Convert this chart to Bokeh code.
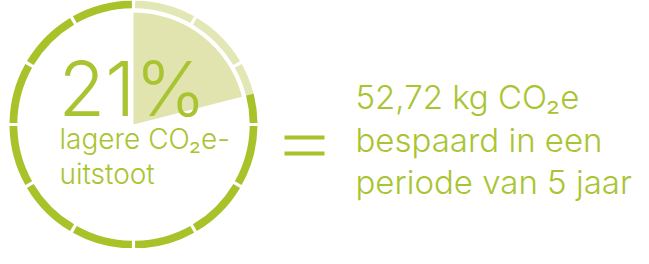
import math
from bokeh.plotting import figure
from bokeh.models import Range1d
from bokeh.embed import file_html
from bokeh.resources import INLINE
from bokeh.core.properties import value

# ---- data ----
pct = 21                      # share shown by the wedge (percent)
n_segments = 12               # ring segments
big_label = "21%"
left_line_1 = "lagere CO\u2082e-"
left_line_2 = "uitstoot"
right_line_1 = "52,72 kg CO\u2082e"
right_line_2 = "bespaard in een"
right_line_3 = "periode van 5 jaar"

# ---- style ----
DARK = "#a8c22a"
LIGHT_RING = "#e3e7b6"
WEDGE = "#e2e4af"
TEXT = "#a9c431"
FONT = "Inter Light"

W, H = 633, 248

p = figure(width=W, height=H, output_backend="svg", toolbar_location=None,
           x_range=Range1d(0, W), y_range=Range1d(0, H), min_border=0)
p.axis.visible = False
p.grid.visible = False
p.outline_line_color = None
p.background_fill_color = "white"
p.border_fill_color = "white"


def Y(y):
    return H - y


# left group (ring + its text), scaled to fit the canvas height
k = 0.976
cx, cy = 133, 124
r_out = 124
r_in = r_out - 8 * k
r_wedge = 112
gap = math.radians(0.75)

end_deg = 90 - pct * 3.6
step = 360 / n_segments

p.wedge(x=[cx], y=[Y(cy)], radius=r_wedge,
        start_angle=[math.radians(end_deg)], end_angle=[math.radians(90)],
        fill_color=WEDGE, line_color=None)

starts, ends, cols = [], [], []
for i in range(n_segments):
    a_hi = 90 - step * i
    a_lo = 90 - step * (i + 1)
    if a_lo < end_deg < a_hi:
        starts += [math.radians(end_deg), math.radians(a_lo) + gap]
        ends += [math.radians(a_hi) - gap, math.radians(end_deg)]
        cols += [LIGHT_RING, DARK]
    else:
        starts.append(math.radians(a_lo) + gap)
        ends.append(math.radians(a_hi) - gap)
        cols.append(LIGHT_RING if a_lo >= end_deg else DARK)
p.annular_wedge(x=[cx] * len(starts), y=[Y(cy)] * len(starts),
                inner_radius=r_in, outer_radius=r_out,
                start_angle=starts, end_angle=ends,
                fill_color=cols, line_color=None)


def txt(x, y, s, size):
    # empirical correction for where the renderer puts the alphabetic baseline
    y_adj = y - 0.33 * size
    p.text(x=[x], y=[Y(y_adj)], text=[s], text_font=value(FONT),
           text_font_size=f"{size}px", text_color=TEXT,
           text_baseline="alphabetic", text_align="left")


txt(58, 113, big_label, 76)
txt(59, 148, left_line_1, 28)
txt(59, 183, left_line_2, 28)

txt(355, 107, right_line_1, 33)
txt(355, 150, right_line_2, 33)
txt(355, 192, right_line_3, 33)

# equals sign
p.rect(x=[304, 304], y=[Y(137), Y(153)], width=40, height=4,
       fill_color=DARK, line_color=None)

open("out.html", "w").write(file_html(p, INLINE))
